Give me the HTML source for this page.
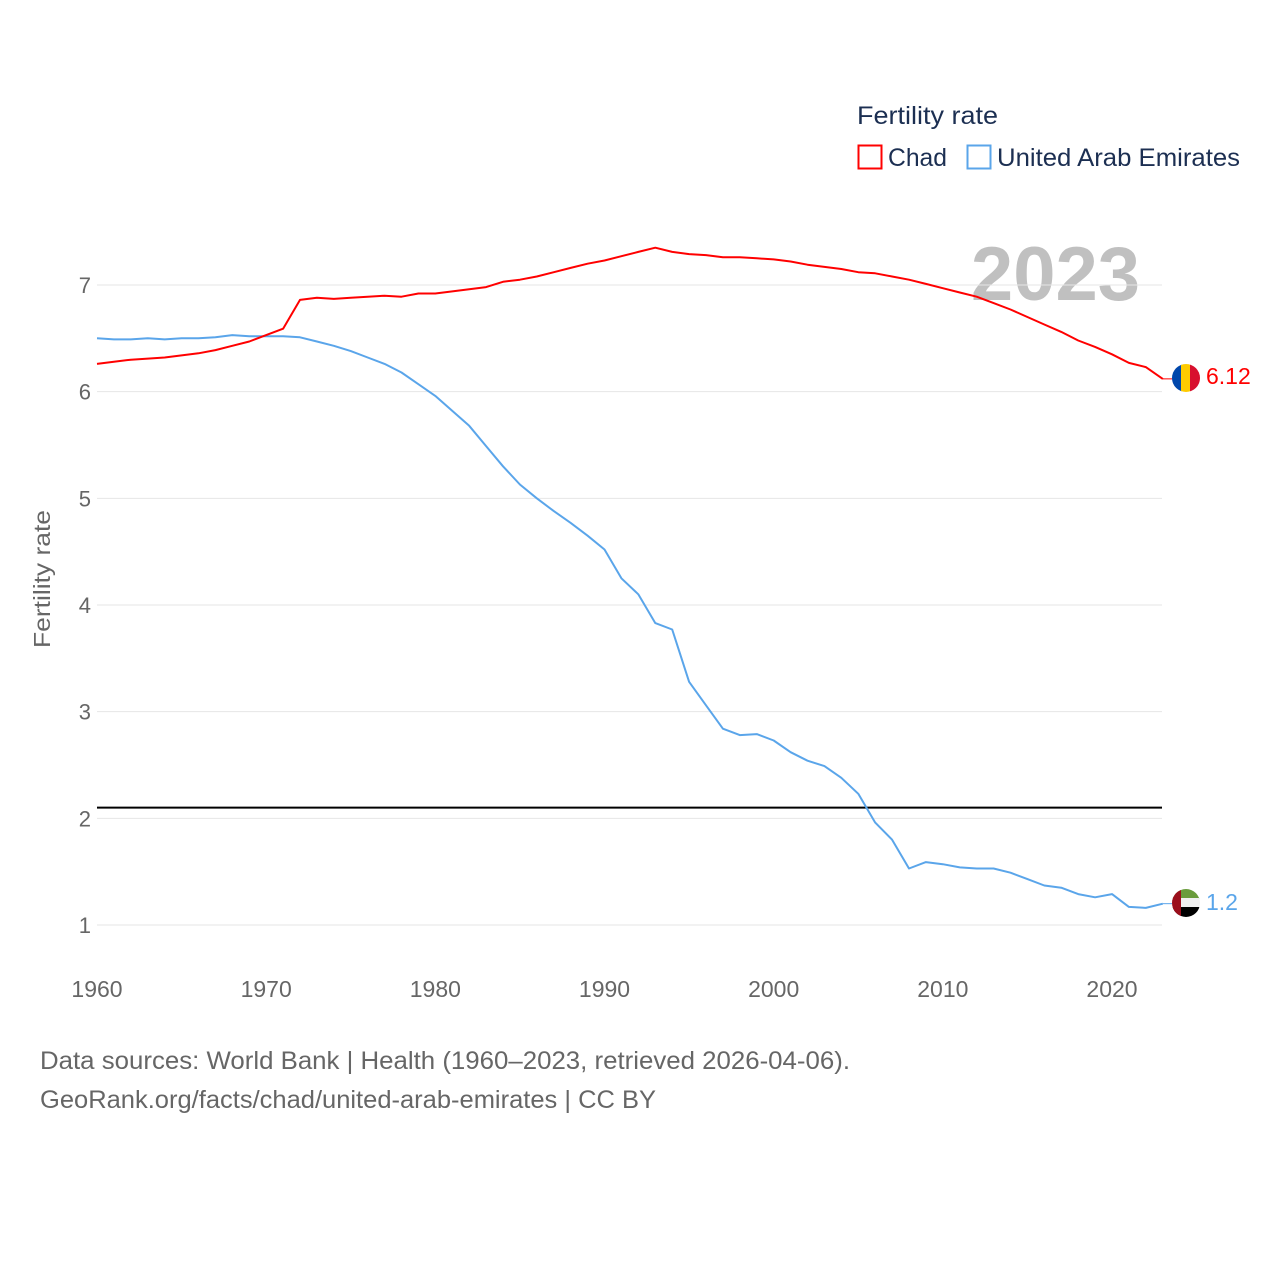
<!DOCTYPE html>
<html><head><meta charset="utf-8"><style>
html,body{margin:0;padding:0;background:#fff;}
svg{display:block;font-family:"Liberation Sans",sans-serif;}
</style></head><body>
<svg id="chart" width="1280" height="1280" viewBox="0 0 1280 1280">
<text x="857" y="124" font-size="25" fill="#1c2f52" textLength="141" lengthAdjust="spacingAndGlyphs">Fertility rate</text>
<g><rect x="858.5" y="145.5" width="23" height="23" fill="none" stroke="#ff0000" stroke-width="2"/><text x="888" y="166" font-size="25" fill="#1c2f52" textLength="59" lengthAdjust="spacingAndGlyphs">Chad</text></g>
<g><rect x="967.5" y="145.5" width="23" height="23" fill="none" stroke="#5aa5ea" stroke-width="2"/><text x="997" y="166" font-size="25" fill="#1c2f52" textLength="243" lengthAdjust="spacingAndGlyphs">United Arab Emirates</text></g>
<text x="1140" y="300" font-size="76" font-weight="bold" fill="#c0c0c0" text-anchor="end">2023</text>
<g id="grid"></g>
<g id="xaxis"></g>
<text transform="translate(50,579) rotate(-90)" font-size="23" fill="#666" text-anchor="middle" textLength="138" lengthAdjust="spacingAndGlyphs">Fertility rate</text>
<g id="series"></g>
<g>
<clipPath id="c1"><circle cx="1186" cy="378" r="14"/></clipPath>
<g clip-path="url(#c1)"><rect x="1172" y="364" width="10" height="28" fill="#0047ab"/><rect x="1181" y="364" width="10" height="28" fill="#fecb00"/><rect x="1190" y="364" width="10" height="28" fill="#d8102e"/></g>
</g>
<g>
<clipPath id="c2"><circle cx="1186" cy="903" r="14"/></clipPath>
<g clip-path="url(#c2)"><rect x="1172" y="889" width="28" height="10" fill="#6a9c3c"/><rect x="1172" y="898" width="28" height="10" fill="#f0f0f0"/><rect x="1172" y="907" width="28" height="10" fill="#000"/><rect x="1172" y="889" width="9" height="28" fill="#9b0f1c"/></g>
</g>
<text x="1206" y="384" font-size="23" fill="#ff0000">6.12</text>
<text x="1206" y="910" font-size="23" fill="#5aa5ea">1.2</text>
<text x="40" y="1069" font-size="25" fill="#666" textLength="810" lengthAdjust="spacingAndGlyphs">Data sources: World Bank | Health (1960–2023, retrieved 2026-04-06).</text>
<text x="40" y="1108" font-size="25" fill="#666" textLength="616" lengthAdjust="spacingAndGlyphs">GeoRank.org/facts/chad/united-arab-emirates | CC BY</text>
</svg>
<script>
const years = [];
for (let y = 1960; y <= 2023; y++) years.push(y);
const chadValues = [6.26,6.28,6.30,6.31,6.32,6.34,6.36,6.39,6.43,6.47,6.53,6.59,6.86,6.88,6.87,6.88,6.89,6.90,6.89,6.92,6.92,6.94,6.96,6.98,7.03,7.05,7.08,7.12,7.16,7.20,7.23,7.27,7.31,7.35,7.31,7.29,7.28,7.26,7.26,7.25,7.24,7.22,7.19,7.17,7.15,7.12,7.11,7.08,7.05,7.01,6.97,6.93,6.89,6.83,6.77,6.70,6.63,6.56,6.48,6.42,6.35,6.27,6.23,6.12];
const uaeValues = [6.50,6.49,6.49,6.50,6.49,6.50,6.50,6.51,6.53,6.52,6.52,6.52,6.51,6.47,6.43,6.38,6.32,6.26,6.18,6.07,5.96,5.82,5.68,5.49,5.30,5.13,5.00,4.88,4.77,4.65,4.52,4.25,4.10,3.83,3.77,3.28,3.06,2.84,2.78,2.79,2.73,2.62,2.54,2.49,2.38,2.23,1.96,1.80,1.53,1.59,1.57,1.54,1.53,1.53,1.49,1.43,1.37,1.35,1.29,1.26,1.29,1.17,1.16,1.20];
const yTicks = [1,2,3,4,5,6,7];
const xTicks = [1960,1970,1980,1990,2000,2010,2020];
const replacementRate = 2.1;

const NS = "http://www.w3.org/2000/svg";
const xs = yr => 97 + (yr - 1960) * (1015 / 60);
const ys = v => 285 + (7 - v) * (640 / 6);
function mk(tag, attrs, parent) {
  const e = document.createElementNS(NS, tag);
  for (const k in attrs) e.setAttribute(k, attrs[k]);
  parent.appendChild(e);
  return e;
}
const grid = document.getElementById('grid');
yTicks.forEach(t => {
  const l = mk('line', {x1: 97, x2: 1162, y1: ys(t), y2: ys(t), stroke: '#e6e6e6', 'stroke-width': 1}, grid);
  
  
  const tx = mk('text', {x: 91, y: ys(t) + 8, 'font-size': 22, fill: '#666', 'text-anchor': 'end'}, grid);
  tx.textContent = t;
  
  
});
const xa = document.getElementById('xaxis');
xTicks.forEach(t => {
  const tx = mk('text', {x: xs(t), y: 997, 'font-size': 23, fill: '#666', 'text-anchor': 'middle'}, xa);
  tx.textContent = t;
  
  
});
const s = document.getElementById('series');
const rl = mk('line', {x1: 97, x2: 1162, y1: ys(replacementRate), y2: ys(replacementRate), stroke: '#000', 'stroke-width': 2}, s);


function line(vals, color, name) {
  const d = vals.map((v, i) => (i ? 'L' : 'M') + xs(years[i]).toFixed(1) + ',' + ys(v).toFixed(1)).join('');
  const p = mk('path', {d: d, fill: 'none', stroke: color, 'stroke-width': 2, 'stroke-linejoin': 'round'}, s);
  
  
  const last = vals[vals.length - 1];
  mk('line', {x1: xs(2023), x2: 1172, y1: ys(last), y2: ys(last), stroke: color, 'stroke-width': 1}, s);
}
line(uaeValues, '#5aa5ea', 'uae-line');
line(chadValues, '#ff0000', 'chad-line');
</script>
</body></html>
